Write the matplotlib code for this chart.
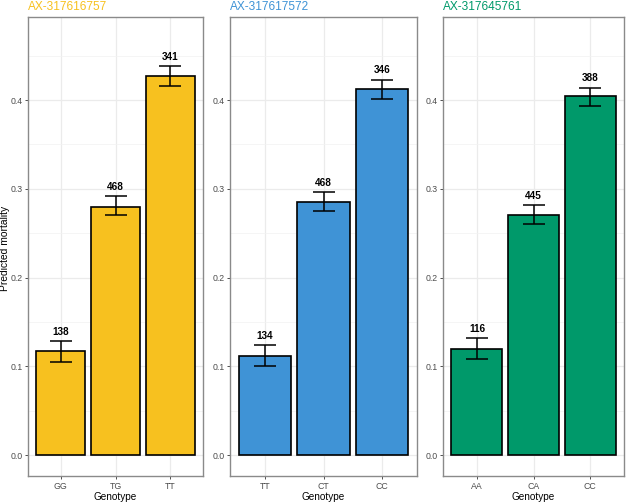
import numpy as np
import matplotlib
matplotlib.use("Agg")
import matplotlib.pyplot as plt

plt.rcParams['font.family'] = ['Liberation Sans', 'DejaVu Sans']

# Data
snps = ['AX-317616757', 'AX-317617572', 'AX-317645761']
genotypes = [['GG', 'TG', 'TT'], ['TT', 'CT', 'CC'], ['AA', 'CA', 'CC']]
mortality = [[0.117, 0.280, 0.427], [0.112, 0.285, 0.412], [0.120, 0.270, 0.404]]
lower = [[0.105, 0.270, 0.416], [0.100, 0.275, 0.401], [0.108, 0.260, 0.393]]
upper = [[0.128, 0.292, 0.438], [0.124, 0.296, 0.423], [0.132, 0.282, 0.414]]
counts = [[138, 468, 341], [134, 468, 346], [116, 445, 388]]
colors = ['#F7C11F', '#3F93D6', '#00996A']

W, H = 631, 503
fig = plt.figure(figsize=(W / 100, H / 100), dpi=100)

# panel boxes in pixels: left, right
boxes = [(28, 203), (230, 417), (443, 624)]
top_px, bot_px = 17, 476

for i in range(3):
    l, r = boxes[i]
    ax = fig.add_axes([l / W, 1 - bot_px / H, (r - l) / W, (bot_px - top_px) / H])
    x = np.arange(1, 4)
    y = np.array(mortality[i])
    lo = np.array(lower[i])
    hi = np.array(upper[i])

    ax.bar(x, y, width=0.9, color=colors[i], edgecolor='black', linewidth=1.2, zorder=3)
    ax.errorbar(x, y, yerr=[y - lo, hi - y], fmt='none', ecolor='black',
                elinewidth=1.1, capsize=8, capthick=1.1, zorder=4)
    for xi, h, n in zip(x, hi, counts[i]):
        ax.annotate(str(n), (xi, h), xytext=(0, 3), textcoords='offset points',
                    ha='center', va='bottom', fontsize=7.2, fontweight='bold', zorder=5)

    ax.set_xlim(0.4, 3.6)
    ax.set_ylim(-0.0235, 0.4935)
    ax.set_xticks(x)
    ax.set_xticklabels(genotypes[i])
    ax.set_yticks([0.0, 0.1, 0.2, 0.3, 0.4])
    ax.set_yticks([0.05, 0.15, 0.25, 0.35, 0.45], minor=True)
    ax.grid(True, which='major', color='#EBEBEB', linewidth=0.9, zorder=0)
    ax.grid(True, which='minor', axis='y', color='#F2F2F2', linewidth=0.5, zorder=0)
    ax.set_axisbelow(True)
    ax.tick_params(axis='both', which='major', labelsize=6.3, labelcolor='#4D4D4D',
                   color='#333333', length=2.5, width=0.6, pad=1.5)
    ax.tick_params(which='minor', length=0)
    for s in ax.spines.values():
        s.set_color('#8A8A8A')
        s.set_linewidth(1.0)

    fig.text(l / W, 1 - 10 / H, snps[i], color=colors[i], fontsize=8.6,
             ha='left', va='baseline')
    fig.text((l + r) / 2 / W, 1 - 500.5 / H, 'Genotype', fontsize=7.2,
             ha='center', va='baseline')

fig.text(5 / W, 1 - 248 / H, 'Predicted mortality', fontsize=7.4, rotation=90,
         ha='center', va='center')

fig.savefig('out.png', dpi=100)
